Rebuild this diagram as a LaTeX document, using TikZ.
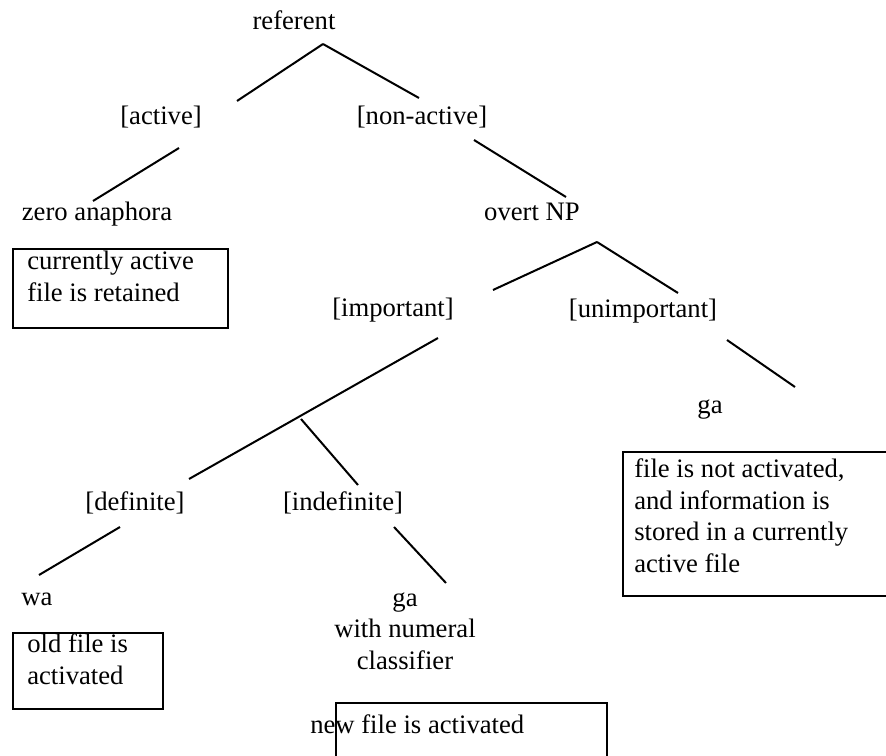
\documentclass[tikz,border=0pt]{standalone}
\usepackage{fontspec}
\setmainfont{Liberation Serif}
\tikzset{%
  cat/.style = {anchor=base, inner sep=0pt},
  note/.style = {anchor=base west, inner sep=0pt, align=left},
  notebox/.style = {draw, line width=1.5pt},
  branch/.style = {line width=1.5pt}
}

\begin{document}
\begin{tikzpicture}[x=0.75pt, y=-0.75pt, font=\fontsize{20}{23.6}\selectfont]
    \useasboundingbox (0,0) rectangle (886,756);
    \clip (0,0) rectangle (886,756);

    % categories (multi-line nodes sit on their last baseline)
    \node (referent)    [cat] at (294,30)  {referent};
    \node (active)      [cat] at (161,125) {[active]};
    \node (nonactive)   [cat] at (422,125) {[non-active]};
    \node (zero)        [cat] at (97,221)  {zero anaphora};
    \node (overt)       [cat] at (532,221) {overt NP};
    \node (important)   [cat] at (393,316) {[important]};
    \node (unimportant) [cat] at (643,317) {[unimportant]};
    \node (gaunimp)     [cat] at (710,413) {ga};
    \node (definite)    [cat] at (135,510) {[definite]};
    \node (indefinite)  [cat] at (343,510) {[indefinite]};
    \node (wa)          [cat] at (37,605)  {wa};
    \node (gaindef)     [cat, align=center] at (405,669) {ga\\with numeral\\classifier};

    % file notes
    \node (retained)    [note] at (27,301)  {currently active\\file is retained};
    \node (oldfile)     [note] at (27,684)  {old file is\\activated};
    \node (notact)      [note] at (634,572) {file is not activated,\\and information is\\stored in a currently\\active file};
    \node (newfile)     [note] at (310,733) {new file is activated};

    \draw[notebox] (13,249) rectangle (228,328);
    \draw[notebox] (13,633) rectangle (163,709);
    \draw[notebox] (623,452) rectangle (900,596);
    \draw[notebox] (336,703) rectangle (607,770);

    % branch ends
    \coordinate (referent-fork)    at (323,44);
    \coordinate (active-up)        at (237,101);
    \coordinate (nonactive-up)     at (419,98);
    \coordinate (active-down)      at (179,148);
    \coordinate (zero-up)          at (93,201);
    \coordinate (nonactive-down)   at (474,140);
    \coordinate (overt-up)         at (566,197);
    \coordinate (overt-fork)       at (597,242);
    \coordinate (important-up)     at (493,290);
    \coordinate (unimportant-up)   at (678,293);
    \coordinate (unimportant-down) at (727,340);
    \coordinate (gaunimp-up)       at (795,387);
    \coordinate (important-down)   at (438,338);
    \coordinate (definite-up)      at (189,479);
    \coordinate (indefinite-fork)  at (301,419);
    \coordinate (indefinite-up)    at (358,485);
    \coordinate (definite-down)    at (120,527);
    \coordinate (wa-up)            at (39,575);
    \coordinate (indefinite-down)  at (394,527);
    \coordinate (gaindef-up)       at (446,583);

    \path[branch] (referent-fork)    edge (active-up)
                                     edge (nonactive-up)
                  (active-down)      edge (zero-up)
                  (nonactive-down)   edge (overt-up)
                  (overt-fork)       edge (important-up)
                                     edge (unimportant-up)
                  (unimportant-down) edge (gaunimp-up)
                  (important-down)   edge (definite-up)
                  (indefinite-fork)  edge (indefinite-up)
                  (definite-down)    edge (wa-up)
                  (indefinite-down)  edge (gaindef-up);
\end{tikzpicture}
\end{document}
